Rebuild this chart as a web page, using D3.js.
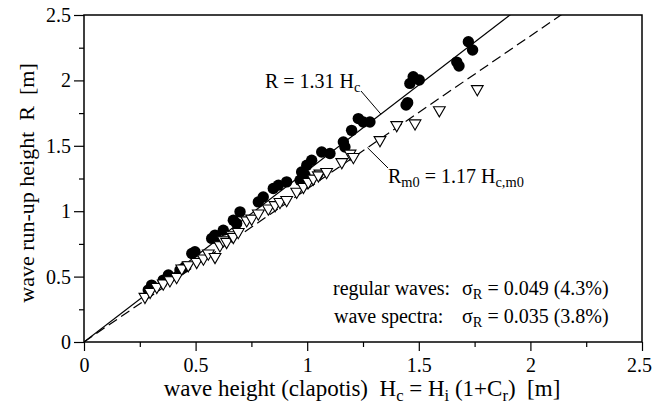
<!DOCTYPE html>
<html>
<head>
<meta charset="utf-8">
<script src="https://cdn.jsdelivr.net/npm/d3@7"></script>
<style>
  body { margin: 0; background: #fff; }
  svg text { font-family: "Liberation Serif", "Times New Roman", serif; fill: #000; }
</style>
</head>
<body>
<svg id="chart" width="652" height="408"></svg>
<script>
// ---- data ----
// regular waves (filled circles): [Hc, R]
const regularWaves = [
  [0.288, 0.397], [0.303, 0.435], [0.355, 0.473], [0.378, 0.512], [0.430, 0.550],
  [0.453, 0.575], [0.483, 0.677], [0.497, 0.690], [0.572, 0.792], [0.587, 0.817],
  [0.594, 0.792], [0.624, 0.855], [0.669, 0.931], [0.684, 0.906], [0.699, 0.995],
  [0.781, 1.071], [0.803, 1.109], [0.848, 1.174], [0.871, 1.199], [0.908, 1.224],
  [0.968, 1.237], [0.983, 1.288], [0.975, 1.300], [0.990, 1.275], [0.998, 1.351],
  [1.020, 1.389], [1.065, 1.453], [1.102, 1.441], [1.162, 1.529], [1.169, 1.491],
  [1.199, 1.618], [1.229, 1.708], [1.251, 1.682], [1.281, 1.682], [1.443, 1.812],
  [1.450, 1.830], [1.460, 1.977], [1.475, 2.028], [1.502, 2.003], [1.670, 2.140],
  [1.680, 2.110], [1.722, 2.296], [1.741, 2.232]
];

// wave spectra (open down-triangles): [Hc,m0, Rm0]
const waveSpectra = [
  [0.273, 0.346], [0.296, 0.384], [0.326, 0.422], [0.355, 0.448], [0.385, 0.473],
  [0.415, 0.498], [0.438, 0.563], [0.467, 0.588], [0.505, 0.613], [0.535, 0.639],
  [0.557, 0.677], [0.587, 0.651], [0.609, 0.740], [0.624, 0.779], [0.639, 0.766],
  [0.662, 0.817], [0.669, 0.804], [0.691, 0.842], [0.729, 0.931], [0.751, 0.944],
  [0.781, 0.983], [0.826, 1.021], [0.856, 1.047], [0.878, 1.071], [0.908, 1.086],
  [0.953, 1.149], [0.983, 1.187], [1.005, 1.224], [1.027, 1.250], [1.057, 1.288],
  [1.050, 1.275], [1.087, 1.300], [1.155, 1.376], [1.192, 1.441], [1.207, 1.415],
  [1.326, 1.544], [1.401, 1.659], [1.483, 1.672], [1.592, 1.773], [1.762, 1.934]
];

// fitted lines R = k * Hc
const fitRegular = 1.31;
const fitSpectra = 1.17;

const xTicks = [0, 0.5, 1, 1.5, 2, 2.5];
const yTicks = [0, 0.5, 1, 1.5, 2, 2.5];
const minorTicks = [0.25, 0.75, 1.25, 1.75, 2.25];

// ---- layout ----
const svg = d3.select('#chart');
const plotL = 84, plotR = 642, plotT = 15, plotB = 342;

const x = d3.scaleLinear().domain([0, 2.5]).range([plotL, plotR]);
const y = d3.scaleLinear().domain([0, 2.5]).range([plotB, plotT]);

// clip so fit lines stop at the frame
svg.append('clipPath').attr('id', 'plot-clip')
  .append('rect')
  .attr('x', plotL).attr('y', plotT)
  .attr('width', plotR - plotL).attr('height', plotB - plotT);

// ---- axes ----
const fmt = d => (d === 0 ? '0' : String(d));

function styleAxis(g) {
  g.select('.domain').remove();
  g.selectAll('line').attr('stroke', '#000').attr('stroke-width', 1.2);
  g.selectAll('text').attr('font-size', '20px');
}

const xAxis = svg.append('g')
  .attr('transform', `translate(0,${plotB})`)
  .call(d3.axisBottom(x).tickValues(xTicks).tickFormat(fmt).tickSize(9).tickPadding(5))
  .call(styleAxis);
xAxis.selectAll('text').attr('dy', '0.8em');
// last label sits on the page edge; nudge it in so it is not clipped
xAxis.selectAll('text').filter(d => d === 2.5).attr('dx', '-3');

svg.append('g')
  .attr('transform', `translate(0,${plotB})`)
  .call(d3.axisBottom(x).tickValues(minorTicks).tickFormat('').tickSize(5))
  .call(styleAxis);

svg.append('g')
  .attr('transform', `translate(${plotL},0)`)
  .call(d3.axisLeft(y).tickValues(yTicks).tickFormat(fmt).tickSize(10).tickPadding(3))
  .call(styleAxis);

svg.append('g')
  .attr('transform', `translate(${plotL},0)`)
  .call(d3.axisLeft(y).tickValues(minorTicks).tickFormat('').tickSize(5))
  .call(styleAxis);

// frame
svg.append('rect')
  .attr('x', plotL).attr('y', plotT)
  .attr('width', plotR - plotL).attr('height', plotB - plotT)
  .attr('fill', 'none')
  .attr('stroke', '#000')
  .attr('stroke-width', 1.5);

// ---- fit lines ----
const plot = svg.append('g').attr('clip-path', 'url(#plot-clip)');

plot.append('line')
  .attr('x1', x(0)).attr('y1', y(0))
  .attr('x2', x(2.5)).attr('y2', y(2.5 * fitRegular))
  .attr('stroke', '#000')
  .attr('stroke-width', 1.2);

plot.append('line')
  .attr('x1', x(0)).attr('y1', y(0))
  .attr('x2', x(2.5)).attr('y2', y(2.5 * fitSpectra))
  .attr('stroke', '#000')
  .attr('stroke-width', 1.2)
  .attr('stroke-dasharray', '10,5');

// ---- markers ----
plot.selectAll('circle.reg')
  .data(regularWaves)
  .enter().append('circle')
  .attr('class', 'reg')
  .attr('cx', d => x(d[0]))
  .attr('cy', d => y(d[1]))
  .attr('r', 5.7)
  .attr('fill', '#000');

const tri = d3.symbol().type(d3.symbolTriangle).size(60);
plot.selectAll('path.spec')
  .data(waveSpectra)
  .enter().append('path')
  .attr('class', 'spec')
  .attr('d', tri)
  .attr('transform', d => `translate(${x(d[0])},${y(d[1])}) rotate(180)`)
  .attr('fill', '#fff')
  .attr('stroke', '#000')
  .attr('stroke-width', 1.1);

// ---- annotations ----
function subText(parent, px, py, parts, size) {
  const t = parent.append('text')
    .attr('x', px).attr('y', py)
    .attr('font-size', size + 'px')
    .style('white-space', 'pre');
  parts.forEach(p => {
    const span = t.append('tspan').text(p.t);
    if (p.sub) {
      span.attr('dy', '0.3em').attr('font-size', (size * 0.72) + 'px');
    } else if (p.back) {
      span.attr('dy', (-0.3 * 0.72) + 'em');
    }
  });
  return t;
}

// leader lines
svg.append('line')
  .attr('x1', 361).attr('y1', 91).attr('x2', x(1.33)).attr('y2', y(1.31 * 1.33))
  .attr('stroke', '#000').attr('stroke-width', 1);
svg.append('line')
  .attr('x1', 388).attr('y1', 168).attr('x2', x(1.27)).attr('y2', y(1.17 * 1.27))
  .attr('stroke', '#000').attr('stroke-width', 1);

subText(svg, 265, 88, [{ t: 'R = 1.31 H' }, { t: 'c', sub: true }], 20);
subText(svg, 388, 183, [
  { t: 'R' }, { t: 'm0', sub: true }, { t: ' = 1.17 H', back: true }, { t: 'c,m0', sub: true }
], 20);

// error stats
subText(svg, 333, 295, [{ t: 'regular waves:' }], 20);
subText(svg, 334, 323, [{ t: 'wave spectra:' }], 20);
subText(svg, 462, 295, [{ t: 'σ' }, { t: 'R', sub: true }, { t: ' = 0.049 (4.3%)', back: true }], 20);
subText(svg, 462, 323, [{ t: 'σ' }, { t: 'R', sub: true }, { t: ' = 0.035 (3.8%)', back: true }], 20);

// axis titles
const xt = subText(svg, 0, 396, [
  { t: 'wave height (clapotis)  H' }, { t: 'c', sub: true },
  { t: ' = H', back: true }, { t: 'i', sub: true },
  { t: ' (1+C', back: true }, { t: 'r', sub: true },
  { t: ')  [m]', back: true }
], 23);
xt.attr('x', 362).attr('text-anchor', 'middle');

svg.append('text')
  .attr('transform', `translate(34,183) rotate(-90)`)
  .attr('text-anchor', 'middle')
  .attr('font-size', '22px')
  .style('white-space', 'pre')
  .text('wave run-up height  R  [m]');
</script>
</body>
</html>
